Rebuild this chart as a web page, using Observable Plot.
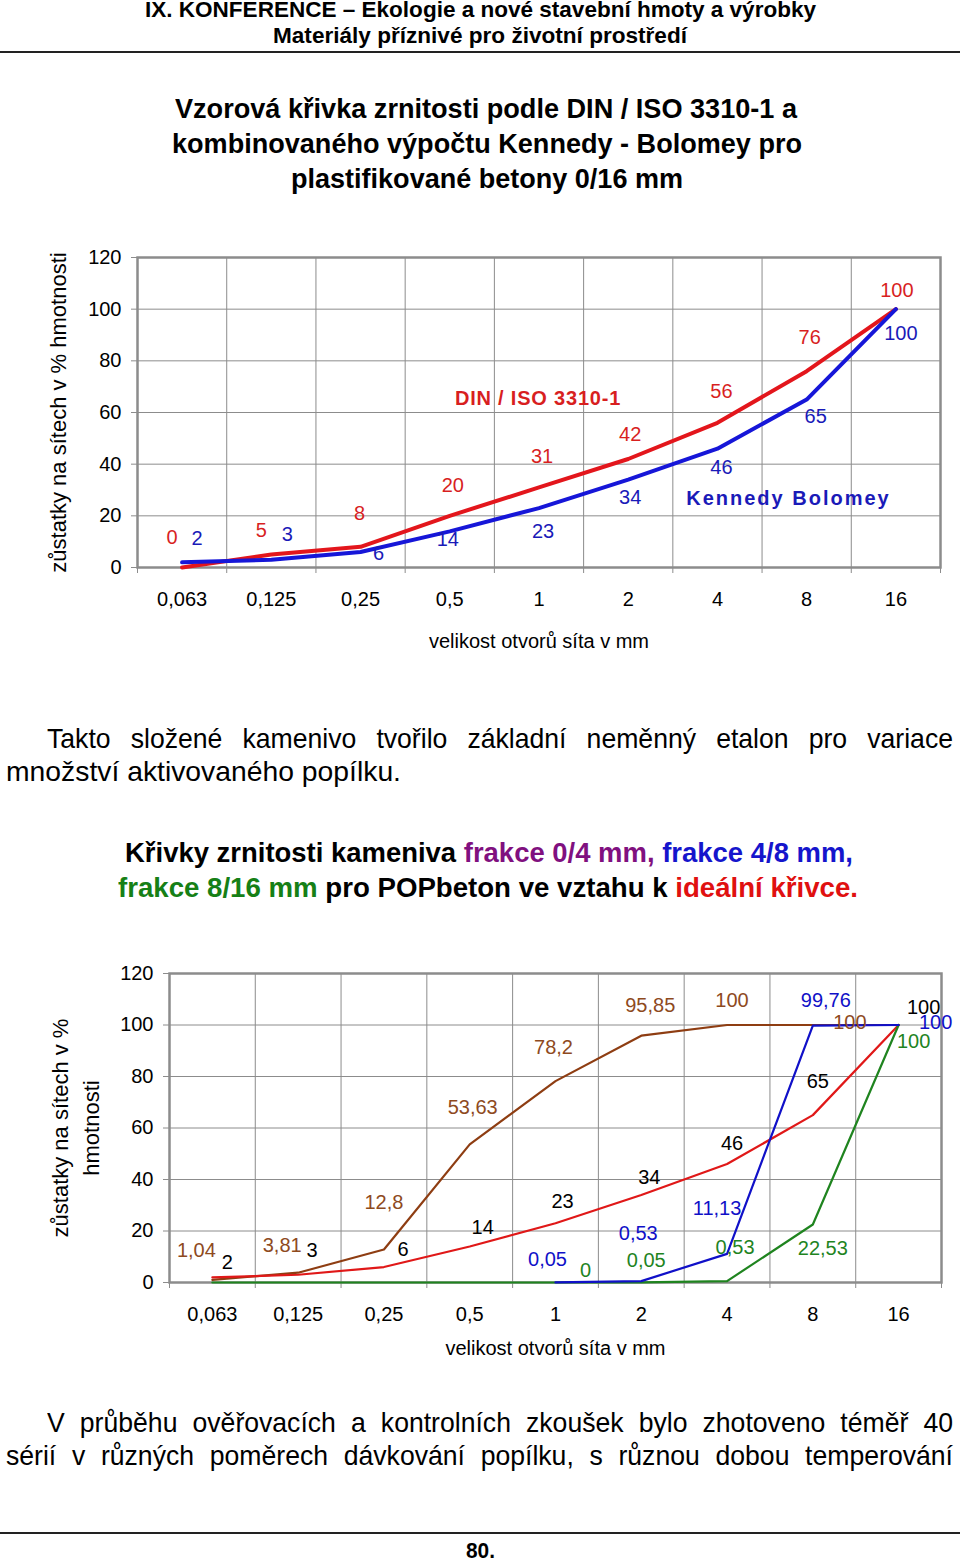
<!DOCTYPE html>
<html><head><meta charset="utf-8">
<script src="https://cdn.jsdelivr.net/npm/d3@7"></script>
<script src="https://cdn.jsdelivr.net/npm/@observablehq/plot@0.6"></script>
<style>
html,body{margin:0;padding:0;background:#fff}
body{width:960px;height:1560px;position:relative;overflow:hidden;font-family:"Liberation Sans",Arial,sans-serif;color:#000}
.ln{position:absolute;white-space:nowrap;line-height:1;transform-origin:left center}
.rule{position:absolute;left:0;width:960px;height:2px;background:#222}
.chart{position:absolute;left:0}
</style></head><body>
<div class="rule" style="top:51px"></div>
<div class="rule" style="top:1532px"></div>
<div id="c1" class="chart" style="top:240px"></div>
<div id="c2" class="chart" style="top:955px"></div>
<script>
// ---------- data ----------
const sieves = ["0,063","0,125","0,25","0,5","1","2","4","8","16"];
const yTicks = [0,20,40,60,80,100,120];

// chart 1
const seriesNames1 = ["DIN / ISO 3310-1","Kennedy Bolomey"];
const dinIso = [0,5,8,20,31,42,56,76,100];
const kennedyBolomey = [2,3,6,14,23,34,46,65,100];

// chart 2
const frakce04 = [1.04,3.81,12.8,53.63,78.2,95.85,100,100,100];
const frakce48 = [null,null,null,null,0.05,0.53,11.13,99.76,100];
const frakce816 = [0,0,0,0,0,0.05,0.53,22.53,100];
const idealni = [2,3,6,14,23,34,46,65,100];

const yTitle1 = "zůstatky na sítech v % hmotnosti";
const yTitle2 = "zůstatky na sítech v %\nhmotnosti";
const xTitle = "velikost otvorů síta v mm";

// ---------- layout (label offsets in px) ----------
const off1Din = [[-10,-30],[-10,-24],[-1,-33],[3,-30],[3,-31],[2,-24],[4,-31],[3,-34],[1,-19]];
const off1KB  = [[15,-24],[16,-25],[18,2],[-2,8],[4,24],[2,18],[4,19],[9,17],[5,24]];
const off2Brown = [[-16,-29],[-16,-27],[0,-47],[3,-37],[-2,-34],[9,-30],[5,-24],[37,-2],null];
const off2Ideal = [[15,-15],[14,-24],[19,-17],[13,-19],[7,-22],[8,-17],[5,-20],[5,-34],[25,-17]];
const off2Blue  = [null,null,null,null,[-8,-23],[-3,-48],[-10,-45],[13,-25],[37,-2]];
const off2Green = [null,null,null,null,[30,-12],[5,-22],[8,-34],[10,24],[15,17]];

const FONT = '"Liberation Sans", Arial, sans-serif';
const idx = d3.range(sieves.length);
const bounds = d3.range(sieves.length + 1).map(i => i - 0.5);
const fmt = v => String(v).replace(".", ",");
const rows = vals => vals.map((v, i) => ({i, v})).filter(d => d.v != null);

function labels(vals, offs, fill, extra = {}) {
  return vals.map((v, i) => (v == null || !offs[i]) ? null :
    Plot.text([{i, v}], {x: "i", y: "v", text: d => fmt(d.v), dx: offs[i][0], dy: offs[i][1], fill, fontSize: 20, ...extra}))
    .filter(Boolean);
}

function frameMarks(labelPad) {
  return [
    Plot.gridX(bounds, {stroke: "#8c8c8c", strokeOpacity: 1, strokeWidth: 1}),
    Plot.gridY(yTicks, {stroke: "#8c8c8c", strokeOpacity: 1, strokeWidth: 1}),
    Plot.frame({stroke: "#8c8c8c", strokeWidth: 2.5}),
    Plot.axisY(yTicks, {tickSize: 6, tickPadding: labelPad, stroke: "#8c8c8c", label: null, fontSize: 20}),
    Plot.axisX(bounds, {tickSize: 6, tickFormat: () => "", stroke: "#8c8c8c", label: null}),
    Plot.axisX(idx, {tickSize: 0, tickPadding: 24, tickFormat: i => sieves[i], label: null, fontSize: 20})
  ];
}

// ---------- chart 1 ----------
const RED1 = "#e3161c", BLUE1 = "#1616d8";
const plot1 = Plot.plot({
  width: 960, height: 427,
  marginLeft: 137, marginRight: 20, marginTop: 17, marginBottom: 100,
  x: {type: "linear", domain: [-0.5, sieves.length - 0.5], label: null},
  y: {domain: [0, 120], label: null},
  style: {fontFamily: FONT, fontSize: "20px", color: "#000", background: "#fff"},
  marks: [
    ...frameMarks(10),
    Plot.line(rows(dinIso), {x: "i", y: "v", stroke: RED1, strokeWidth: 4}),
    Plot.line(rows(kennedyBolomey), {x: "i", y: "v", stroke: BLUE1, strokeWidth: 4}),
    ...labels(dinIso, off1Din, "#d81f1f"),
    ...labels(kennedyBolomey, off1KB, "#1a1ab8"),
    Plot.text([{i: 4, v: dinIso[4]}], {x: "i", y: "v", text: () => seriesNames1[0], dx: -1, dy: -89, fill: "#d81f1f", fontWeight: "bold", fontSize: 20, className: "sn-din"}),
    Plot.text([{i: 6, v: kennedyBolomey[6]}], {x: "i", y: "v", text: () => seriesNames1[1], dx: 71, dy: 50, fill: "#1a1ab8", fontWeight: "bold", fontSize: 20, className: "sn-kb"}),
    Plot.text([0], {frameAnchor: "left", textAnchor: "middle", text: () => yTitle1, rotate: -90, dx: -79, fontSize: 22}),
    Plot.text([0], {frameAnchor: "bottom", text: () => xTitle, dy: 80, fontSize: 20})
  ]
});
d3.select(plot1).selectAll(".sn-din text").style("letter-spacing", "0.8px");
d3.select(plot1).selectAll(".sn-kb text").style("letter-spacing", "2px");
document.getElementById("c1").appendChild(plot1);

// ---------- chart 2 ----------
const BROWN = "#8e3d12", RED2 = "#e01818", BLUE2 = "#1010c8", GREEN2 = "#1f841f";
const plot2 = Plot.plot({
  width: 960, height: 417,
  marginLeft: 169, marginRight: 19, marginTop: 18, marginBottom: 90,
  x: {type: "linear", domain: [-0.5, sieves.length - 0.5], label: null},
  y: {domain: [0, 120], label: null},
  style: {fontFamily: FONT, fontSize: "20px", color: "#000", background: "#fff"},
  marks: [
    ...frameMarks(10),
    Plot.line(rows(frakce04), {x: "i", y: "v", stroke: BROWN, strokeWidth: 2.2}),
    Plot.line(rows(idealni), {x: "i", y: "v", stroke: RED2, strokeWidth: 2.2}),
    Plot.line(rows(frakce816), {x: "i", y: "v", stroke: GREEN2, strokeWidth: 2.2}),
    Plot.line(rows(frakce48), {x: "i", y: "v", stroke: BLUE2, strokeWidth: 2.2}),
    ...labels(frakce04, off2Brown, "#8e4a1e"),
    ...labels(idealni, off2Ideal, "#000"),
    ...labels(frakce48, off2Blue, BLUE2),
    ...labels(frakce816, off2Green, GREEN2),
    Plot.text([0], {frameAnchor: "left", textAnchor: "middle", text: () => yTitle2, rotate: -90, dx: -96, fontSize: 22, lineHeight: 1.4}),
    Plot.text([0], {frameAnchor: "bottom", text: () => xTitle, dy: 72, fontSize: 20})
  ]
});
document.getElementById("c2").appendChild(plot2);

// ---------- page text ----------
const NARROW = '"Liberation Sans Narrow","Arial Narrow","Liberation Sans",Arial,sans-serif';
const textLines = [
  {html: "IX. KONFERENCE – Ekologie a nové stavební hmoty a výrobky", x0: 145, x1: 816, cy: 10, size: 22, bold: true},
  {html: "Materiály příznivé pro životní prostředí", x0: 273, x1: 687, cy: 36, size: 22, bold: true},
  {html: "Vzorová křivka zrnitosti podle DIN / ISO 3310-1 a", x0: 175, x1: 797, cy: 109, size: 27, bold: true},
  {html: "kombinovaného výpočtu Kennedy - Bolomey pro", x0: 172, x1: 802, cy: 144, size: 27, bold: true},
  {html: "plastifikované betony 0/16 mm", x0: 291, x1: 683, cy: 179, size: 27, bold: true},
  {html: "Takto složené kamenivo tvořilo základní neměnný etalon pro variace", x0: 47, x1: 953, cy: 739, size: 28, justify: true},
  {html: "množství aktivovaného popílku.", x0: 6, x1: 401, cy: 772, size: 28},
  {html: 'Křivky zrnitosti kameniva <span style="color:#80107f">frakce 0/4 mm,</span> <span style="color:#1515cc">frakce 4/8 mm,</span>', x0: 125, x1: 853, cy: 853, size: 27, bold: true},
  {html: '<span style="color:#168016">frakce 8/16 mm</span> pro POPbeton ve vztahu k <span style="color:#e01010">ideální křivce.</span>', x0: 118, x1: 858, cy: 888, size: 27, bold: true},
  {html: "V průběhu ověřovacích a kontrolních zkoušek bylo zhotoveno téměř 40", x0: 47, x1: 953, cy: 1423, size: 28, justify: true},
  {html: "sérií v různých poměrech dávkování popílku, s různou dobou temperování", x0: 6, x1: 953, cy: 1456, size: 28, justify: true},
  {html: "80.", x0: 466, x1: 495, cy: 1551, size: 22, bold: true}
];
const CONDENSE = 0.95;
for (const t of textLines) {
  const el = document.createElement("div");
  el.className = "ln";
  el.innerHTML = t.html;
  el.style.fontFamily = NARROW;
  el.style.fontSize = t.size + "px";
  el.style.fontWeight = t.bold ? "bold" : "normal";
  document.body.appendChild(el);
  const nat = el.getBoundingClientRect().width;
  const w = t.x1 - t.x0;
  if (t.justify && nat * CONDENSE <= w) {
    el.style.width = (w / CONDENSE) + "px";
    el.style.textAlign = "justify";
    el.style.textAlignLast = "justify";
    el.style.transform = `scaleX(${CONDENSE})`;
  } else {
    el.style.transform = `scaleX(${w / nat})`;
  }
  el.style.left = t.x0 + "px";
  el.style.top = (t.cy - t.size / 2) + "px";
}
</script>
</body></html>
